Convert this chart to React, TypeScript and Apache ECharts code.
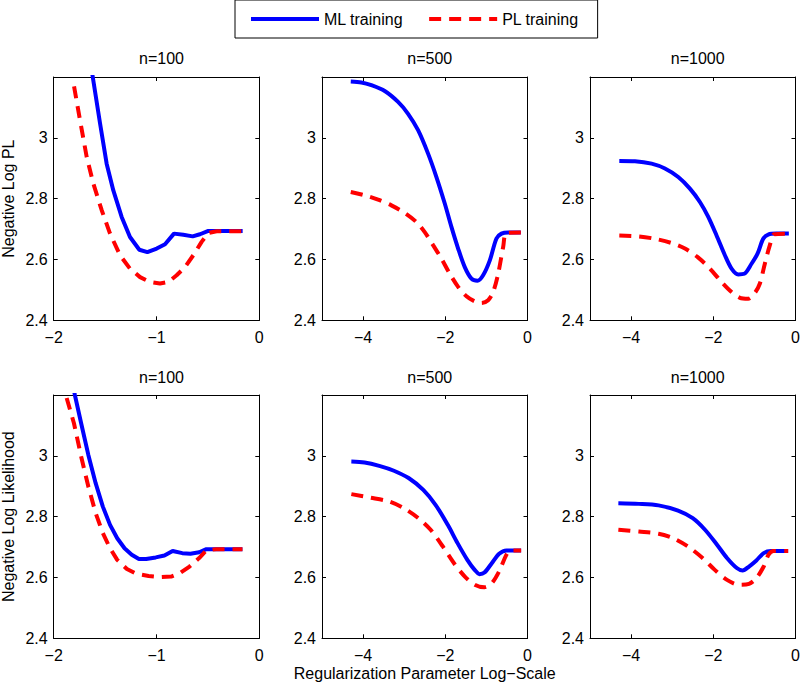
import React, { useEffect, useRef } from 'react';
import * as echarts from 'echarts';

const FONT = '"Liberation Sans", Arial, Helvetica, sans-serif';

const seriesNames = ['ML training', 'PL training'];
const panelTitles = ['n=100', 'n=500', 'n=1000', 'n=100', 'n=500', 'n=1000'];
const rowYNames = ['Negative Log PL', 'Negative Log Likelihood'];
const xAxisName = 'Regularization Parameter Log\u2212Scale';
const yTicks = [2.4, 2.6, 2.8, 3];
const xTicksN100 = [-2, -1, 0];
const xTicksLarge = [-4, -2, 0];

// Row 1: Negative Log PL
const plML100 = [[-1.643, 3.25], [-1.62, 3.2], [-1.549, 3.047], [-1.485, 2.915], [-1.42, 2.827], [-1.339, 2.74], [-1.258, 2.674], [-1.167, 2.632], [-1.089, 2.624], [-0.998, 2.636], [-0.917, 2.65], [-0.83, 2.685], [-0.739, 2.681], [-0.648, 2.676], [-0.577, 2.683], [-0.496, 2.694], [-0.415, 2.694], [-0.162, 2.694]];
const plPL100 = [[-1.802, 3.169], [-1.744, 3.058], [-1.679, 2.937], [-1.614, 2.849], [-1.533, 2.762], [-1.452, 2.685], [-1.355, 2.614], [-1.258, 2.57], [-1.16, 2.542], [-1.063, 2.526], [-0.966, 2.521], [-0.885, 2.526], [-0.804, 2.548], [-0.723, 2.575], [-0.642, 2.614], [-0.561, 2.658], [-0.496, 2.687], [-0.415, 2.693], [-0.162, 2.693]];
const plML500 = [[-4.3, 3.185], [-4.042, 3.182], [-3.8, 3.173], [-3.474, 3.154], [-3.149, 3.118], [-2.906, 3.079], [-2.662, 3.025], [-2.419, 2.948], [-2.216, 2.871], [-2.013, 2.784], [-1.851, 2.707], [-1.688, 2.636], [-1.526, 2.575], [-1.364, 2.537], [-1.218, 2.53], [-1.08, 2.548], [-0.917, 2.597], [-0.755, 2.669], [-0.633, 2.685], [-0.471, 2.689], [-0.162, 2.689]];
const plPL500 = [[-4.3, 2.822], [-3.961, 2.811], [-3.636, 2.797], [-3.312, 2.778], [-2.987, 2.753], [-2.703, 2.723], [-2.5, 2.69], [-2.297, 2.647], [-2.094, 2.603], [-1.891, 2.553], [-1.688, 2.51], [-1.485, 2.479], [-1.282, 2.462], [-1.12, 2.457], [-0.958, 2.466], [-0.836, 2.493], [-0.714, 2.553], [-0.592, 2.641], [-0.511, 2.687], [-0.162, 2.689]];
const plML1000 = [[-4.287, 2.924], [-3.906, 2.923], [-3.501, 2.915], [-3.177, 2.899], [-2.853, 2.871], [-2.569, 2.833], [-2.326, 2.789], [-2.123, 2.74], [-1.921, 2.679], [-1.718, 2.614], [-1.556, 2.57], [-1.394, 2.551], [-1.248, 2.553], [-1.07, 2.586], [-0.924, 2.619], [-0.786, 2.668], [-0.664, 2.682], [-0.462, 2.685], [-0.162, 2.685]];
const plPL1000 = [[-4.287, 2.679], [-3.825, 2.676], [-3.42, 2.668], [-3.015, 2.654], [-2.69, 2.636], [-2.366, 2.606], [-2.083, 2.57], [-1.799, 2.526], [-1.556, 2.493], [-1.353, 2.474], [-1.151, 2.471], [-0.989, 2.49], [-0.867, 2.521], [-0.746, 2.586], [-0.624, 2.647], [-0.519, 2.683], [-0.162, 2.685]];

// Row 2: Negative Log Likelihood
const llML100 = [[-1.806, 3.22], [-1.794, 3.2], [-1.733, 3.107], [-1.663, 3.003], [-1.592, 2.91], [-1.522, 2.833], [-1.452, 2.773], [-1.382, 2.729], [-1.311, 2.696], [-1.241, 2.675], [-1.171, 2.661], [-1.101, 2.661], [-1.007, 2.666], [-0.923, 2.672], [-0.843, 2.687], [-0.749, 2.68], [-0.67, 2.678], [-0.585, 2.683], [-0.515, 2.693], [-0.422, 2.693], [-0.164, 2.693]];
const llPL100 = [[-1.874, 3.19], [-1.803, 3.107], [-1.733, 2.998], [-1.663, 2.899], [-1.592, 2.812], [-1.522, 2.746], [-1.452, 2.696], [-1.382, 2.658], [-1.288, 2.628], [-1.194, 2.612], [-1.077, 2.605], [-0.96, 2.601], [-0.857, 2.603], [-0.773, 2.614], [-0.679, 2.636], [-0.585, 2.664], [-0.515, 2.689], [-0.422, 2.693], [-0.164, 2.693]];
const llML500 = [[-4.286, 2.981], [-3.964, 2.978], [-3.607, 2.967], [-3.25, 2.951], [-2.893, 2.927], [-2.536, 2.888], [-2.238, 2.839], [-1.94, 2.773], [-1.702, 2.713], [-1.464, 2.658], [-1.286, 2.625], [-1.167, 2.611], [-1.048, 2.616], [-0.869, 2.647], [-0.69, 2.678], [-0.512, 2.689], [-0.155, 2.689]];
const llPL500 = [[-4.286, 2.874], [-3.845, 2.863], [-3.369, 2.85], [-3.012, 2.828], [-2.655, 2.795], [-2.357, 2.757], [-2.06, 2.702], [-1.762, 2.642], [-1.524, 2.603], [-1.286, 2.576], [-1.048, 2.568], [-0.869, 2.581], [-0.69, 2.62], [-0.512, 2.675], [-0.417, 2.689], [-0.155, 2.689]];
const llML1000 = [[-4.31, 2.844], [-3.81, 2.842], [-3.333, 2.837], [-2.857, 2.82], [-2.5, 2.795], [-2.202, 2.757], [-1.905, 2.707], [-1.667, 2.664], [-1.429, 2.631], [-1.286, 2.623], [-1.131, 2.636], [-0.952, 2.656], [-0.774, 2.68], [-0.595, 2.687], [-0.179, 2.687]];
const llPL1000 = [[-4.31, 2.757], [-3.81, 2.751], [-3.333, 2.744], [-2.976, 2.729], [-2.619, 2.702], [-2.262, 2.664], [-1.964, 2.625], [-1.667, 2.592], [-1.369, 2.576], [-1.131, 2.579], [-0.952, 2.598], [-0.774, 2.636], [-0.655, 2.675], [-0.536, 2.687], [-0.179, 2.687]];

const panelData = [
  [plML100, plPL100], [plML500, plPL500], [plML1000, plPL1000],
  [llML100, llPL100], [llML500, llPL500], [llML1000, llPL1000],
];

// layout (pixels)
const colLeft = [53.7, 322, 590];
const colWidth = [205.6, 205.5, 205.5];
const rowTop = [77, 395];
const rowHeight = 243.3;
const titleTop = [45, 364];

const fmt = (v: number) => (v < 0 ? '\u2212' + String(Math.abs(v)) : String(v));

export default function App() {
  const ref = useRef<HTMLDivElement>(null);
  useEffect(() => {
    if (!ref.current) return;
    const chart = echarts.init(ref.current, null, { renderer: 'svg' });
    const grids: any[] = [];
    const xAxes: any[] = [];
    const yAxes: any[] = [];
    const titles: any[] = [];
    const series: any[] = [];
    const textStyle = { color: '#000', fontSize: 16, fontFamily: FONT };
    for (let i = 0; i < 6; i++) {
      const r = Math.floor(i / 3);
      const c = i % 3;
      grids.push({
        left: colLeft[c], top: rowTop[r], width: colWidth[c], height: rowHeight,
        containLabel: false, outerBoundsMode: 'none', show: false,
      });
      titles.push({
        text: panelTitles[i], left: colLeft[c] + colWidth[c] / 2, top: titleTop[r],
        textAlign: 'center', textStyle: { ...textStyle, fontWeight: 'normal' },
      });
    }
    const mkX = (i: number, primary: boolean) => {
      const c = i % 3;
      const ticks = c === 0 ? xTicksN100 : xTicksLarge;
      const ax: any = {
        type: 'value', gridIndex: i, position: primary ? 'bottom' : 'top',
        min: c === 0 ? -2 : -5, max: 0,
        axisLine: { show: true, onZero: false, lineStyle: { color: '#000', width: 1 } },
        axisTick: { show: true, inside: true, length: 4, customValues: ticks, lineStyle: { color: '#000' } },
        axisLabel: { show: primary, customValues: ticks, formatter: fmt, margin: 9, ...textStyle },
        splitLine: { show: false },
      };
      if (primary && i === 4) {
        ax.name = xAxisName;
        ax.nameLocation = 'middle';
        ax.nameGap = 27;
        ax.nameTextStyle = { ...textStyle };
      }
      return ax;
    };
    const mkY = (i: number, primary: boolean) => {
      const ax: any = {
        type: 'value', gridIndex: i, position: primary ? 'left' : 'right',
        min: 2.4, max: 3.2,
        axisLine: { show: true, onZero: false, lineStyle: { color: '#000', width: 1 } },
        axisTick: { show: true, inside: true, length: 4, customValues: yTicks, lineStyle: { color: '#000' } },
        axisLabel: { show: primary, customValues: yTicks, formatter: fmt, margin: 6, ...textStyle },
        splitLine: { show: false },
      };
      if (primary && i % 3 === 0) {
        ax.name = rowYNames[Math.floor(i / 3)];
        ax.nameLocation = 'middle';
        ax.nameGap = 37;
        ax.nameTextStyle = { ...textStyle };
      }
      return ax;
    };
    for (let i = 0; i < 6; i++) { xAxes.push(mkX(i, true)); yAxes.push(mkY(i, true)); }
    for (let i = 0; i < 6; i++) { xAxes.push(mkX(i, false)); yAxes.push(mkY(i, false)); }
    for (let i = 0; i < 6; i++) {
      const [ml, pl] = panelData[i];
      const smooth = i % 3 === 0 ? false : 0.3;
      series.push({
        name: seriesNames[0], type: 'line', xAxisIndex: i, yAxisIndex: i, data: ml,
        symbol: 'none', showSymbol: false, clip: true, smooth,
        lineStyle: { color: '#0000ff', width: 4, type: 'solid' }, itemStyle: { color: '#0000ff' },
      });
      series.push({
        name: seriesNames[1], type: 'line', xAxisIndex: i, yAxisIndex: i, data: pl,
        symbol: 'none', showSymbol: false, clip: true, smooth,
        lineStyle: { color: '#ff0000', width: 4, type: [12, 8] }, itemStyle: { color: '#ff0000' },
      });
    }
    chart.setOption({
      animation: false,
      backgroundColor: '#fff',
      title: titles,
      legend: {
        data: seriesNames, left: 235, top: 0, orient: 'horizontal',
        itemWidth: 68, itemHeight: 10, itemGap: 24,
        padding: [11, 19, 11, 14],
        borderColor: '#000', borderWidth: 1,
        backgroundColor: '#fff',
        textStyle: { ...textStyle },
        lineStyle: { width: 4 },
        itemStyle: { color: 'rgba(0,0,0,0)', borderWidth: 0 },
        selectedMode: false,
      },
      grid: grids,
      xAxis: xAxes,
      yAxis: yAxes,
      series,
    });
    return () => chart.dispose();
  }, []);
  return <div ref={ref} style={{ position: 'absolute', left: 0, top: 0, width: 800, height: 685 }} />;
}
